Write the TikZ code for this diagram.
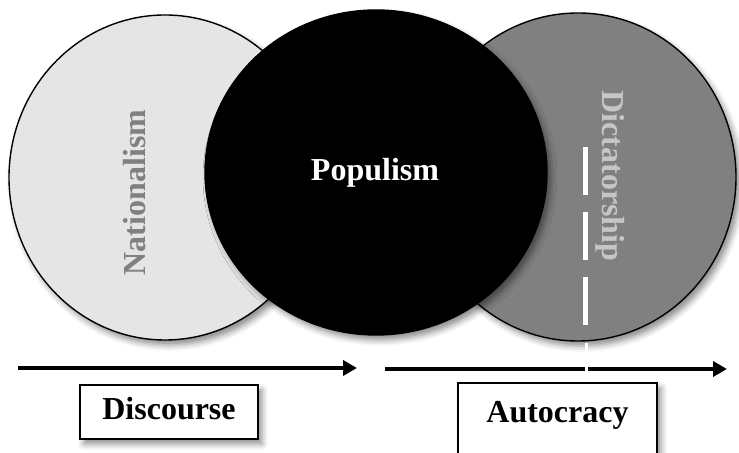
\documentclass[tikz,border=0pt]{standalone}
\usepackage{fontspec}
\setmainfont{Liberation Serif}
\usetikzlibrary{shapes.geometric, arrows.meta, shadows.blur}

\tikzset{
  soft/.style = {blur shadow = {shadow xshift = 2pt, shadow yshift = -2.5pt, shadow blur radius = 3pt, shadow opacity = 45}},
  ring/.style = {ellipse, draw, inner sep = 0, line width = 0.7pt, soft},
  word/.style = {font = \fontsize{16}{19}\selectfont\bfseries},
  labelbox/.style = {draw, fill = white, line width = 0.8pt, inner ysep = 0, word, soft},
  flow/.style = {line width = 2pt, -{Triangle[length = 7pt, width = 7.5pt]}}
}

\begin{document}
\begin{tikzpicture}[x = 0.5pt, y = -0.5pt]
    \clip (0,0) rectangle (739,453);
    % the three circles
    \node[ring, fill = gray!20, minimum width = 156pt, minimum height = 162.5pt] (nat) at (165,177.5) {};
    \node[ring, fill = gray, minimum width = 158pt, minimum height = 164pt] (dict) at (578,177) {};
    \node[ring, fill = black, minimum width = 171pt, minimum height = 162.5pt] (pop) at (376,172.5) {};
    \node[word, text = gray, rotate = 90] (natlabel) at (135,192.5) {Nationalism};
    \node[word, text = white] (poplabel) at (375,173) {Populism};
    \node[word, text = gray!45, rotate = -90] (dictlabel) at (610.5,176) {Dictatorship};
    % arrows
    \coordinate (l0) at (18,368);
    \coordinate (l1) at (357,368);
    \coordinate (r0) at (385,369);
    \coordinate (r1) at (727,369);
    \draw[flow] (l0) -- (l1);
    \draw[flow] (r0) -- (r1);
    % white marker
    \coordinate (d0) at (585,147);
    \coordinate (d1) at (585,327);
    \coordinate (d2) at (586,343);
    \coordinate (d3) at (586,384);
    \draw[white, line width = 2.5pt, dash pattern = on 24pt off 8.5pt] (d0) -- (d1);
    \draw[white, line width = 1.5pt] (d2) -- (d3);
    % boxes
    \node[labelbox, minimum width = 89pt, text height = 17.5pt, text depth = 9.5pt, anchor = base] (disc) at (169,420) {Discourse};
    \node[labelbox, minimum width = 99.5pt, text height = 20pt, text depth = 25pt, anchor = base] (auto) at (557.5,423) {Autocracy};
\end{tikzpicture}
\end{document}
